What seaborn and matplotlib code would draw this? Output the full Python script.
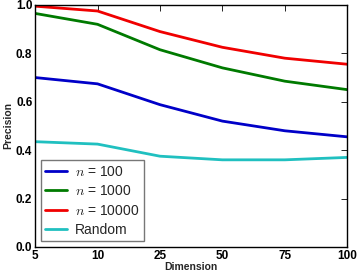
import pandas as pd
import matplotlib
matplotlib.use("Agg")
import matplotlib.pyplot as plt
import seaborn as sns

dims = ["5", "10", "25", "50", "75", "100"]
n100 = [0.70, 0.674, 0.588, 0.52, 0.48, 0.455]
n1000 = [0.965, 0.92, 0.815, 0.74, 0.685, 0.65]
n10000 = [0.995, 0.975, 0.89, 0.825, 0.78, 0.755]
random_ = [0.435, 0.425, 0.375, 0.36, 0.36, 0.37]

labels = [r"$n$ = 100", r"$n$ = 1000", r"$n$ = 10000", "Random"]
colors = ["#0000c8", "#007a00", "#f00000", "#20c0c0"]

rows = []
for lab, vals in zip(labels, [n100, n1000, n10000, random_]):
    for i, v in enumerate(vals):
        rows.append({"pos": i, "prec": v, "series": lab})
df = pd.DataFrame(rows)

sns.set_theme(style="white")
plt.rcParams["font.family"] = ["Liberation Sans", "DejaVu Sans"]
plt.rcParams["mathtext.fontset"] = "cm"

fig, ax = plt.subplots(figsize=(3.58, 2.75), dpi=100)
sns.lineplot(data=df, x="pos", y="prec", hue="series", palette=colors,
             hue_order=labels, linewidth=2, ax=ax)

ax.set_xlim(0, len(dims) - 1)
ax.set_ylim(0, 1)
ax.set_xticks(range(len(dims)))
ax.set_xticklabels(dims, fontweight="bold")
ax.set_yticks([0, 0.2, 0.4, 0.6, 0.8, 1.0])
ax.set_yticklabels(["0.0", "0.2", "0.4", "0.6", "0.8", "1.0"], fontweight="bold")
ax.tick_params(direction="in", length=4, width=0.6, top=True, right=True,
               labelsize=8.5, pad=2, colors="black")
for s in ax.spines.values():
    s.set_color("black")
    s.set_linewidth(1)
ax.set_xlabel("Dimension", fontsize=7.5, fontweight="bold", labelpad=0)
ax.set_ylabel("Precision", fontsize=7.5, fontweight="bold", labelpad=2)

leg = ax.legend(loc="lower left", fontsize=10, frameon=True, fancybox=False,
                handlelength=1.6, borderpad=0.3, labelspacing=0.4,
                handletextpad=0.6, borderaxespad=0.4)
leg.get_frame().set_edgecolor("#555555")
leg.get_frame().set_linewidth(1)

fig.subplots_adjust(left=0.098, right=0.97, top=0.982, bottom=0.102)
fig.savefig("out.png", dpi=100)
